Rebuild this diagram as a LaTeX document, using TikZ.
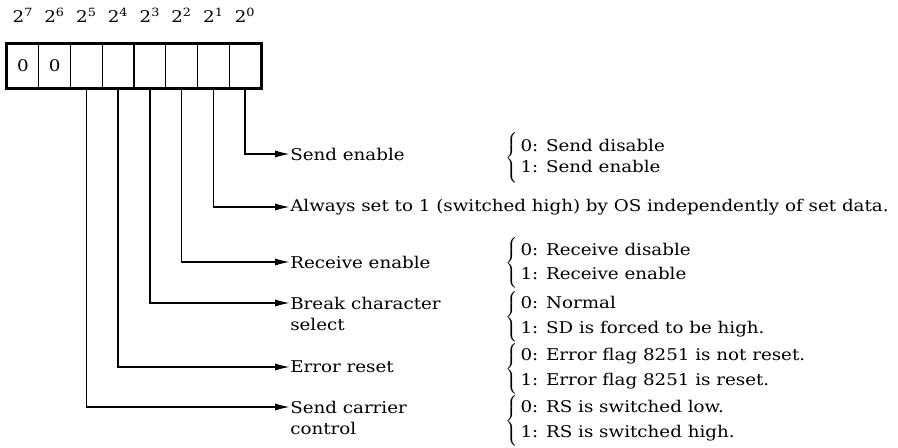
\documentclass[tikz,border=0pt]{standalone}
\usepackage{fontspec}
\setmainfont{DejaVu Serif}[FakeStretch=1.13]
\usepackage{tikz}
\usetikzlibrary{positioning}
\usetikzlibrary{arrows.meta}
\delimiterfactor=1001
\delimitershortfall=-3pt

\begin{document}
\begin{tikzpicture}[
  x=0.025cm, y=-0.025cm,
  font=\fontsize{11.5}{15}\selectfont,
  cell/.style={draw, line width=0.9pt, minimum width=0.794cm, minimum height=1.1cm, inner sep=0pt},
  bitlabel/.style={inner sep=0pt},
  link/.style={line width=1.2pt, -{Latex[length=10.5pt,width=5pt]}},
  field/.style={anchor=west, inner sep=0pt},
  choice/.style={anchor=west, inner sep=0pt}
]
\useasboundingbox (0,0) rectangle (898,447);

% Register cells, bit 7 on the left
\node[cell] (b7) at (22.9,66) {0};
\node[cell] (b6) at (54.6,66) {0};
\node[cell] (b5) at (86.4,66) {};
\node[cell] (b4) at (118.1,66) {};
\node[cell] (b3) at (149.9,66) {};
\node[cell] (b2) at (181.6,66) {};
\node[cell] (b1) at (213.4,66) {};
\node[cell] (b0) at (245.1,66) {};
\draw[line width=1.8pt] (b7.north west) rectangle (b0.south east);

% Bit weights
\node[bitlabel] (e7) at (22.9,15) {2\textsuperscript{7}};
\node[bitlabel] (e6) at (54.6,15) {2\textsuperscript{6}};
\node[bitlabel] (e5) at (86.4,15) {2\textsuperscript{5}};
\node[bitlabel] (e4) at (118.1,15) {2\textsuperscript{4}};
\node[bitlabel] (e3) at (149.9,15) {2\textsuperscript{3}};
\node[bitlabel] (e2) at (181.6,15) {2\textsuperscript{2}};
\node[bitlabel] (e1) at (213.4,15) {2\textsuperscript{1}};
\node[bitlabel] (e0) at (245.1,15) {2\textsuperscript{0}};

% Bit functions
\node[field] (send) at (290,154) {Send enable};
\node[field] (always) at (290,207) {Always set to 1 (switched high) by OS independently of set data.};
\node[field] (recv) at (290,262) {Receive enable};
\node[field] (brk) at (290,303) {Break character};
\node[field] (brk2) at (290,324) {select};
\node[field] (err) at (290,367) {Error reset};
\node[field] (car) at (290,407) {Send carrier};
\node[field] (car2) at (290,428) {control};

\draw[link] (b0.south) |- (send.west);
\draw[link] (b1.south) |- (always.west);
\draw[link] (b2.south) |- (recv.west);
\draw[link] (b3.south) |- (brk.west);
\draw[link] (b4.south) |- (err.west);
\draw[link] (b5.south) |- (car.west);

% Meaning of 0 and 1
\node[choice] (sendopt) at (505,158) {$\left\{\,\begin{tabular}{@{}l@{}}0: Send disable\\1: Send enable\end{tabular}\right.$};
\node[choice] (recvopt) at (505,263) {$\left\{\,\begin{tabular}{@{}l@{}}0: Receive disable\\[2pt]1: Receive enable\end{tabular}\right.$};
\node[choice] (brkopt) at (505,317) {$\left\{\,\begin{tabular}{@{}l@{}}0: Normal\\[3pt]1: SD is forced to be high.\end{tabular}\right.$};
\node[choice] (erropt) at (505,369) {$\left\{\,\begin{tabular}{@{}l@{}}0: Error flag 8251 is not reset.\\[3pt]1: Error flag 8251 is reset.\end{tabular}\right.$};
\node[choice] (caropt) at (505,421) {$\left\{\,\begin{tabular}{@{}l@{}}0: RS is switched low.\\[3pt]1: RS is switched high.\end{tabular}\right.$};
\end{tikzpicture}
\end{document}
